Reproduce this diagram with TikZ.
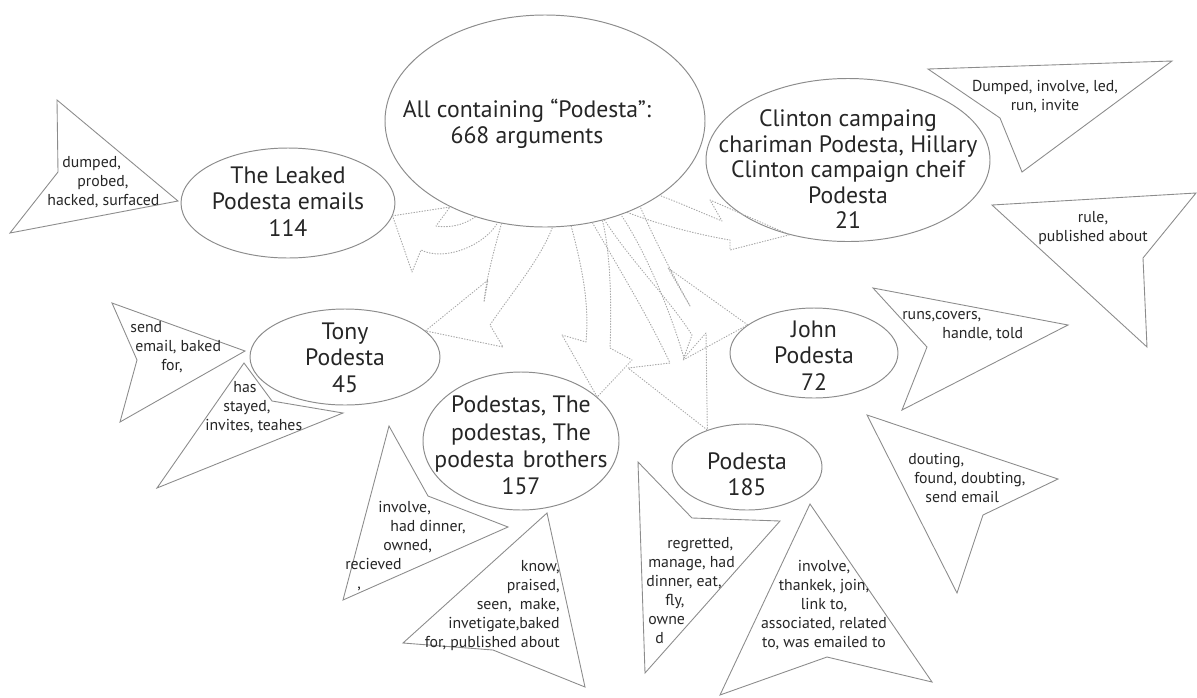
\documentclass[tikz,border=0pt]{standalone}
\usepackage{fontspec}
\setmainfont{PT Sans}
\usetikzlibrary{shapes.geometric}
\newdimen\pxu \pxu=0.02cm
\definecolor{ink}{gray}{0.15}
\definecolor{rim}{gray}{0.55}
\definecolor{leafline}{gray}{0.55}
\definecolor{flowline}{gray}{0.66}
\tikzset{
  bubble/.style={ellipse, draw=rim, line width=0.55pt, inner sep=0pt},
  bigtext/.style={font=\fontsize{13.5}{15}\selectfont, text=ink, align=center, inner sep=0pt},
  smalltext/.style={font=\fontsize{9}{10.8}\selectfont, text=ink, inner sep=0pt},
  leaf/.style={draw=leafline, line width=0.5pt, line join=miter},
  flow/.style={draw=flowline, line width=0.55pt, dash pattern=on 0.45pt off 1.1pt, line cap=round, line join=round}
}
\begin{document}
\begin{tikzpicture}[x=0.02cm, y=-0.02cm]
\useasboundingbox (0,0) rectangle (1197,697);
\fill[white] (0,0) rectangle (1197,697);

% ---- topic ellipses ----
\node[bubble, minimum width=320\pxu, minimum height=212\pxu] (main) at (545,121) {};
\node[bubble, minimum width=214\pxu, minimum height=110\pxu] (leaked) at (288,203) {};
\node[bubble, minimum width=284\pxu, minimum height=163\pxu] (clinton) at (848,160) {};
\node[bubble, minimum width=190\pxu, minimum height=96\pxu] (tony) at (345,357) {};
\node[bubble, minimum width=196\pxu, minimum height=138\pxu] (podestas) at (521,441) {};
\node[bubble, minimum width=150\pxu, minimum height=86\pxu] (p185) at (747,467) {};
\node[bubble, minimum width=168\pxu, minimum height=90\pxu] (john) at (814,353) {};

% ---- ellipse captions ----
\node[bigtext, anchor=north] (mainT) at (527,98.5) {\strut All containing “Podesta”:\\668 arguments};
\node[bigtext, anchor=north] (leakedT) at (288,164.5) {\strut The Leaked\\Podesta emails\\114};
\node[bigtext, anchor=north, font=\fontsize{13.5}{14.5}\selectfont] (clintonT) at (848,108.5) {\strut Clinton campaing\\chariman Podesta, Hillary\\Clinton campaign cheif\\Podesta\\21};
\node[bigtext, anchor=north] (tonyT) at (345,320.5) {\strut Tony\\Podesta\\45};
\node[bigtext, anchor=north, font=\fontsize{13.5}{15.5}\selectfont] (podestasT) at (521,393.5) {\strut Podestas, The\\podestas, The\\podesta\hspace{0.35em}brothers\\157};
\node[bigtext, anchor=north] (p185T) at (747,450.5) {\strut Podesta\\185};
\node[bigtext, anchor=north] (johnT) at (814,318.5) {\strut John\\Podesta\\72};

% ---- flow arrows from the central ellipse ----
\draw[flow] (main.234) .. controls (462,226) and (448,228) .. (436,226) -- (450,207) -- (leaked.-7)
  -- (412,272) -- (421,250) .. controls (445,262) and (485,245) .. (main.245);
\draw[flow] (main.247) .. controls (494,250) and (486,280) .. (484,302) -- (488,280) -- (tony.18)
  -- (503,347) -- (490,325) .. controls (510,295) and (540,260) .. (main.274);
\draw[flow] (main.284) .. controls (580,260) and (590,300) .. (586,342) -- (562,335) -- (podestas.30)
  -- (632,360) -- (610,348) .. controls (612,300) and (610,250) .. (main.300);
\draw[flow] (main.295) .. controls (620,270) and (650,320) .. (670,363) -- (628,368) -- (p185.137)
  -- (706,333) -- (684,358) .. controls (670,310) and (645,250) .. (main.309);
\draw[flow] (main.301) .. controls (630,260) and (670,300) .. (692,335) -- (683,360) -- (john.157)
  -- (668,268) -- (690,306) .. controls (670,270) and (650,230) .. (main.318);
\draw[flow] (main.312) .. controls (660,225) and (700,235) .. (730,240) -- (730,250) -- (clinton.232)
  -- (710,200) -- (722,221) .. controls (700,212) and (680,203) .. (main.327);

% ---- verb call-outs ----
\draw[leaf] (57,100) -- (178,201) -- (10,233) -- (58,172) -- cycle;
\node[smalltext, anchor=north west, align=left] (leakedW) at (47,154)
  {\strut\hspace*{15\pxu}dumped,\\\hspace*{30\pxu}probed,\\hacked, surfaced};

\draw[leaf] (928,69) -- (1172,61) -- (1022,172) -- (1000,118) -- cycle;
\node[smalltext, anchor=north, align=center] (clintonW) at (1045,78) {\strut Dumped, involve, led,\\run, invite};

\draw[leaf] (992,205) -- (1196,193) -- (1143,258) -- (1147,347) -- cycle;
\node[smalltext, anchor=north, align=center] (ruleW) at (1093,209) {\strut rule,\\published about};

\draw[leaf] (112,303) -- (245,351) -- (120,422) -- (137,360) -- cycle;
\node[smalltext, anchor=north west, align=left] (sendW) at (130,319)
  {\strut send\\\hspace*{5\pxu}email, baked\\\hspace*{31\pxu}for,};

\draw[leaf] (244,363) -- (272,401) -- (343,413) -- (157,488) -- cycle;
\node[smalltext, anchor=north west, align=left] (hasW) at (205,379)
  {\strut\hspace*{28\pxu}has\\\hspace*{18\pxu}stayed,\\invites, teahes};

\draw[leaf] (389,426) -- (428,496) -- (508,527) -- (343,600) -- cycle;
\node[smalltext, anchor=north west, align=left] (involveW) at (345,499)
  {\strut\hspace*{33\pxu}involve,\\\hspace*{45\pxu}had dinner,\\\hspace*{38\pxu}owned,\\recieved\\\hspace*{12\pxu},};

\draw[leaf] (547,513) -- (585,687) -- (493,650) -- (403,643) -- cycle;
\node[smalltext, anchor=north east, align=right] (knowW) at (560,558)
  {\strut know,\\praised,\\seen,~ make,\\invetigate,baked\\for, published about};

\draw[leaf] (638,462) -- (692,518) -- (780,521) -- (645,673) -- cycle;
\node[smalltext, anchor=north west, align=left] (regrettedW) at (646,535)
  {\strut\hspace*{21\pxu}regretted,\\\hspace*{2\pxu}manage, had\\dinner, eat,\\\hspace*{19\pxu}fly,\\\hspace*{2\pxu}owne\\\hspace*{9\pxu}d};

\draw[leaf] (810,504) -- (932,682) -- (827,657) -- (720,695) -- cycle;
\node[smalltext, anchor=north, align=center] (thankekW) at (824,558)
  {\strut involve,\\thankek, join,\\link to,\\associated, related\\to, was emailed to};

\draw[leaf] (873,288) -- (1068,325) -- (902,410) -- (927,347) -- cycle;
\node[smalltext, anchor=north west, align=left] (runsW) at (902,306)
  {\strut runs,covers,\\\hspace*{40\pxu}handle, told};

\draw[leaf] (867,415) -- (1058,479) -- (983,515) -- (957,593) -- cycle;
\node[smalltext, anchor=north west, align=left] (doutingW) at (908,451)
  {\strut douting,\\\hspace*{6\pxu}found, doubting,\\\hspace*{17\pxu}send email};
\end{tikzpicture}
\end{document}
